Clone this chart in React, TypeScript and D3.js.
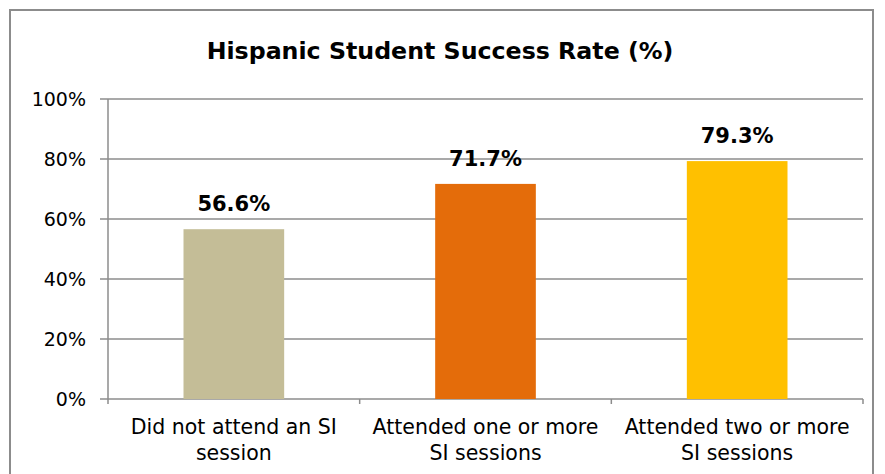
import React from "react";
import * as d3 from "d3";

const categories = [
  ["Did not attend an SI", "session"],
  ["Attended one or more", "SI sessions"],
  ["Attended two or more", "SI sessions"],
];
const values = [56.6, 71.7, 79.3];
const colors = ["#C4BD97", "#E46C0A", "#FFC000"];
const yTicks = [0, 20, 40, 60, 80, 100];
const title = "Hispanic Student Success Rate (%)";

const W = 885, H = 474;
const left = 108, right = 863, top = 99, bottom = 399;
const font = "'DejaVu Sans', sans-serif";

export default function App() {
  const x = d3.scaleBand<number>().domain(d3.range(values.length)).range([left, right]).paddingInner(0.6).paddingOuter(0.3);
  const xc = d3.scaleBand<number>().domain(d3.range(values.length)).range([left, right]);
  const y = d3.scaleLinear().domain([0, 100]).range([bottom, top]);
  const grid = "#8c8c8c";
  return (
    <svg width={W} height={H} style={{ position: "absolute", left: 0, top: 0, background: "#fff" }} fontFamily={font}>
      <rect x={10} y={10} width={863} height={480} fill="#fff" stroke="#8c8c8c" strokeWidth={2} />
      <text x={440} y={59} textAnchor="middle" fontSize={23.7} fontWeight="bold" fill="#000">{title}</text>
      {yTicks.map((t) => (
        <g key={t}>
          <line x1={left - 8} x2={right} y1={y(t)} y2={y(t)} stroke={grid} strokeWidth={1.5} />
          <text x={86} y={y(t)} dy="0.35em" textAnchor="end" fontSize={19} fill="#000">{t}%</text>
        </g>
      ))}
      <line x1={left} x2={left} y1={top} y2={bottom + 5} stroke={grid} strokeWidth={1.5} />
      {d3.range(values.length).map((i) => (
        <line key={i} x1={(xc(i) as number) + xc.bandwidth()} x2={(xc(i) as number) + xc.bandwidth()} y1={bottom} y2={bottom + 5} stroke={grid} strokeWidth={1.5} />
      ))}
      {values.map((v, i) => (
        <g key={i}>
          <rect x={x(i)} y={y(v)} width={x.bandwidth()} height={bottom - y(v)} fill={colors[i]} />
          <text x={(x(i) as number) + x.bandwidth() / 2} y={y(v) - 18} textAnchor="middle" fontSize={21} fontWeight="bold" fill="#000">{v.toFixed(1)}%</text>
          {categories[i].map((line, j) => (
            <text key={j} x={(xc(i) as number) + xc.bandwidth() / 2} y={427 + j * 26} dy="0.35em" textAnchor="middle" fontSize={20.5} fill="#000">{line}</text>
          ))}
        </g>
      ))}
    </svg>
  );
}
